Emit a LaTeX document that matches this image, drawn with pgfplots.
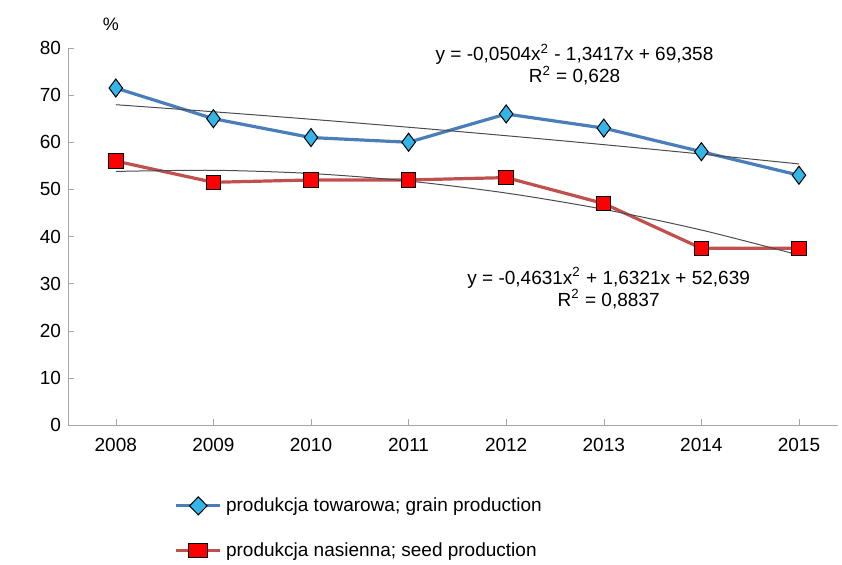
\documentclass[border=0pt]{standalone}
\usepackage{pgfplots}
\pgfplotsset{compat=1.18}
\usepackage{fontspec}
\setmainfont{Liberation Sans}
\definecolor{bl}{HTML}{4A7EBB}
\definecolor{blf}{HTML}{33B5E8}
\definecolor{rd}{HTML}{C0504D}
\begin{document}
\begin{tikzpicture}
\useasboundingbox (-34pt,-70pt) rectangle (387pt,212.5pt);
\begin{axis}[scale only axis, width=385pt, height=188.5pt,
 xmin=-0.49, xmax=7.4, ymin=0, ymax=80,
 xtick={0,...,7}, xticklabels={2008,2009,2010,2011,2012,2013,2014,2015},
 ytick={0,10,...,80}, axis x line*=bottom, axis y line*=left,
 axis line style={gray!70}, tick style={gray!70}, major tick length=3pt,
 tick label style={font=\fontsize{9.5}{10}\selectfont},
 /pgf/number format/assume math mode=true,
 x tick label style={yshift=-3pt},
 legend style={at={(0.13,-0.17)}, anchor=north west, draw=none, font=\fontsize{9.5}{10}\selectfont, row sep=10pt},
 legend image post style={xscale=1.3},
 legend cell align=left, clip=false]
\addplot[bl, line width=1.6pt, mark=diamond*, mark size=4.5pt, mark options={fill=blf, draw=black, line width=0.5pt}]
 coordinates {(0,71.5)(1,65)(2,61)(3,60)(4,66)(5,63)(6,58)(7,53)};
\addlegendentry{produkcja towarowa; grain production}
\addplot[rd, line width=1.6pt, mark=square*, mark size=3.6pt, mark options={fill=red, draw=black, line width=0.5pt}]
 coordinates {(0,56)(1,51.5)(2,52)(3,52)(4,52.5)(5,47)(6,37.5)(7,37.5)};
\addlegendentry{produkcja nasienna; seed production}
\addplot[gray!60!black, line width=0.5pt, smooth, forget plot] coordinates {(0,67.966)(1,66.473)(2,64.879)(3,63.185)(4,61.390)(5,59.493)(6,57.497)(7,55.399)};
\addplot[gray!60!black, line width=0.5pt, smooth, forget plot] coordinates {(0,53.808)(1,54.051)(2,53.368)(3,51.759)(4,49.222)(5,45.761)(6,41.374)(7,36.061)};
\node[fill=white, align=center, inner sep=1pt, font=\fontsize{9.5}{11}\selectfont] at (axis cs:4.7,76.5) {y = -0,0504x\textsuperscript{2} - 1,3417x + 69,358\\R\textsuperscript{2} = 0,628};
\node[fill=white, align=center, inner sep=1pt, font=\fontsize{9.5}{11}\selectfont] at (axis cs:5.05,29) {y = -0,4631x\textsuperscript{2} + 1,6321x + 52,639\\R\textsuperscript{2} = 0,8837};
\node[font=\rmfamily\fontsize{9}{10}\selectfont] at (axis cs:-0.05,85) {\%};
\end{axis}
\end{tikzpicture}
\end{document}
